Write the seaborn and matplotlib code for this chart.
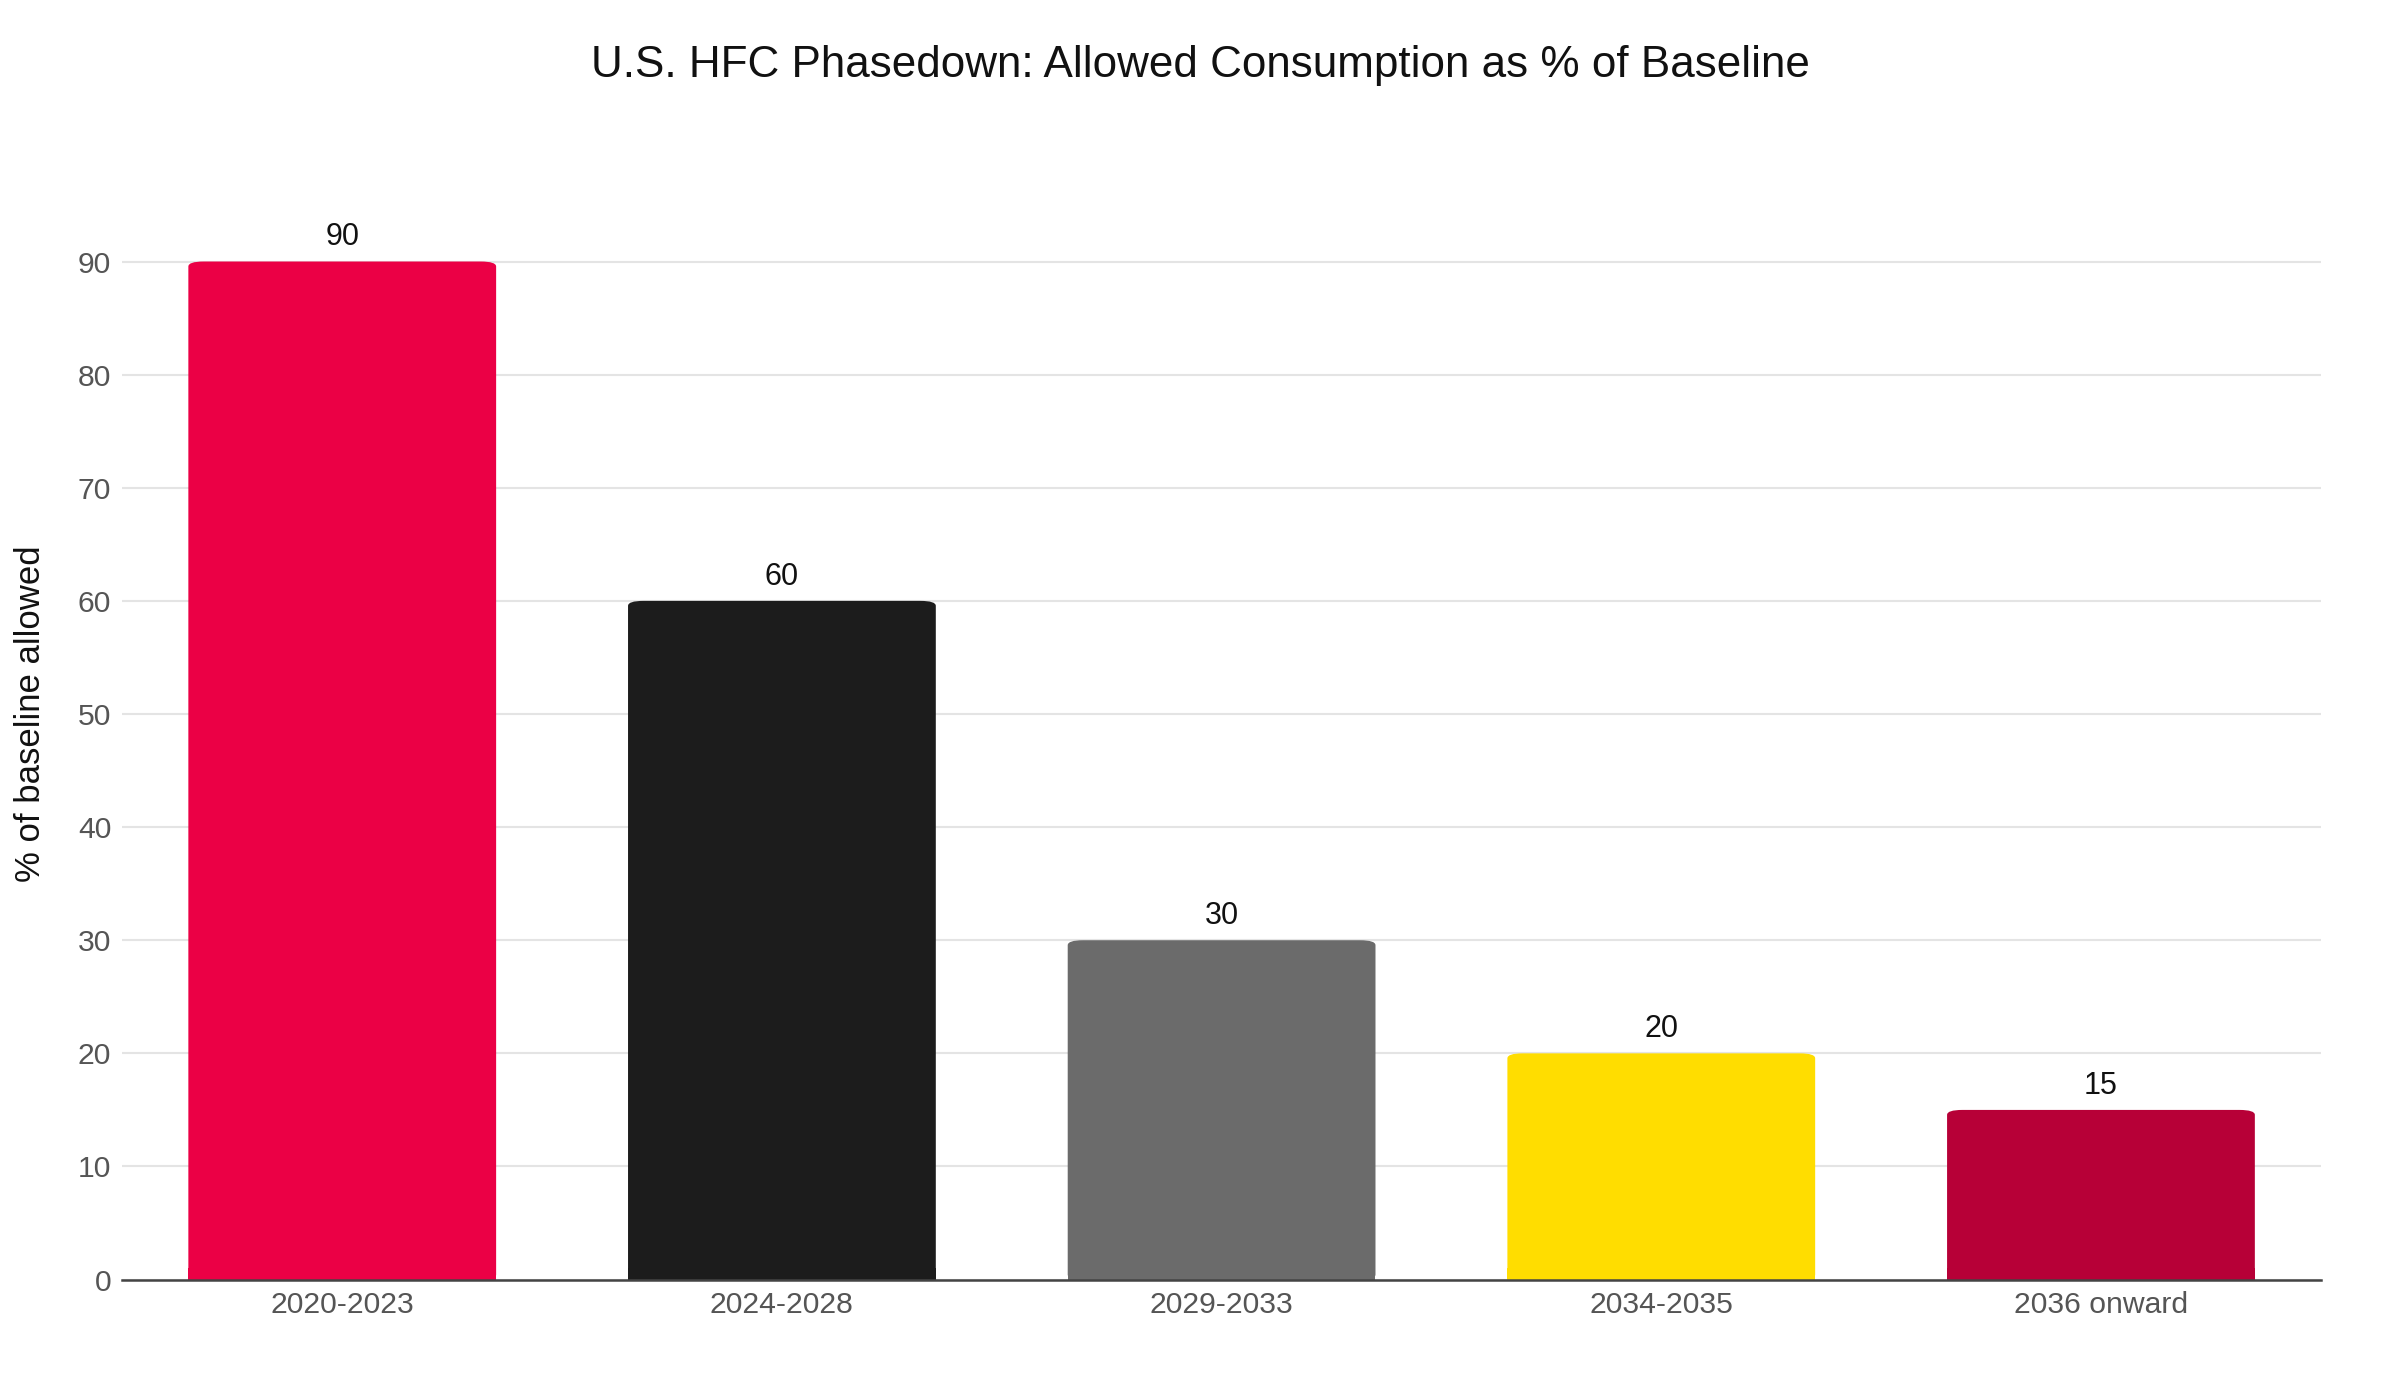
import matplotlib.pyplot as plt
import matplotlib as mpl
from matplotlib.patches import FancyBboxPatch, Rectangle
import seaborn as sns
import pandas as pd

sns.set_style('white')
mpl.rcParams['font.family'] = ['Liberation Sans', 'DejaVu Sans']

periods = ['2020-2023', '2024-2028', '2029-2033', '2034-2035', '2036 onward']
allowed = [90, 60, 30, 20, 15]
colors = ['#EB0045', '#1C1C1C', '#6B6B6B', '#FFDD00', '#B70037']
yticks = [0, 10, 20, 30, 40, 50, 60, 70, 80, 90]

df = pd.DataFrame({'period': periods, 'allowed': allowed})

fig = plt.figure(figsize=(24, 14), dpi=100)
ax = fig.add_axes([0.051, 0.086, 0.916, 0.808])

sns.barplot(data=df, x='period', y='allowed', hue='period', palette=colors,
            legend=False, width=0.7, saturation=1, ax=ax, zorder=3)

# rounded tops: swap each bar for a rounded box, squaring off the bottom corners
for p in list(ax.patches):
    x, y, w, h = p.get_x(), p.get_y(), p.get_width(), p.get_height()
    c = p.get_facecolor()
    p.set_visible(False)
    ax.add_patch(FancyBboxPatch((x, y), w, h, boxstyle='round,pad=0,rounding_size=0.035',
                                mutation_aspect=12.5, facecolor=c, edgecolor='none', zorder=3))
    ax.add_patch(Rectangle((x, y), w, 1.0, facecolor=c, edgecolor='none', zorder=3))

for i, v in enumerate(allowed):
    ax.text(i, v + 0.8, str(v), ha='center', va='bottom', fontsize=22, color='#111111')

ax.set_xlim(-0.5, len(periods) - 0.5)
ax.set_ylim(0, 100)
ax.set_yticks(yticks)
ax.yaxis.grid(True, color='#e4e4e4', linewidth=1.5, zorder=0)
ax.set_axisbelow(True)
ax.tick_params(axis='both', length=0, labelsize=21.7, labelcolor='#555555', pad=8)
for s in ['top', 'right', 'left']:
    ax.spines[s].set_visible(False)
ax.spines['bottom'].set_color('#444444')
ax.spines['bottom'].set_linewidth(1.8)
ax.spines['bottom'].set_zorder(5)

ax.set_xlabel('')
ax.set_ylabel('% of baseline allowed', fontsize=25, color='#111111', labelpad=22)
fig.suptitle('U.S. HFC Phasedown: Allowed Consumption as % of Baseline',
             fontsize=31.7, color='#111111', y=0.968)

plt.savefig('out.png', dpi=100)
